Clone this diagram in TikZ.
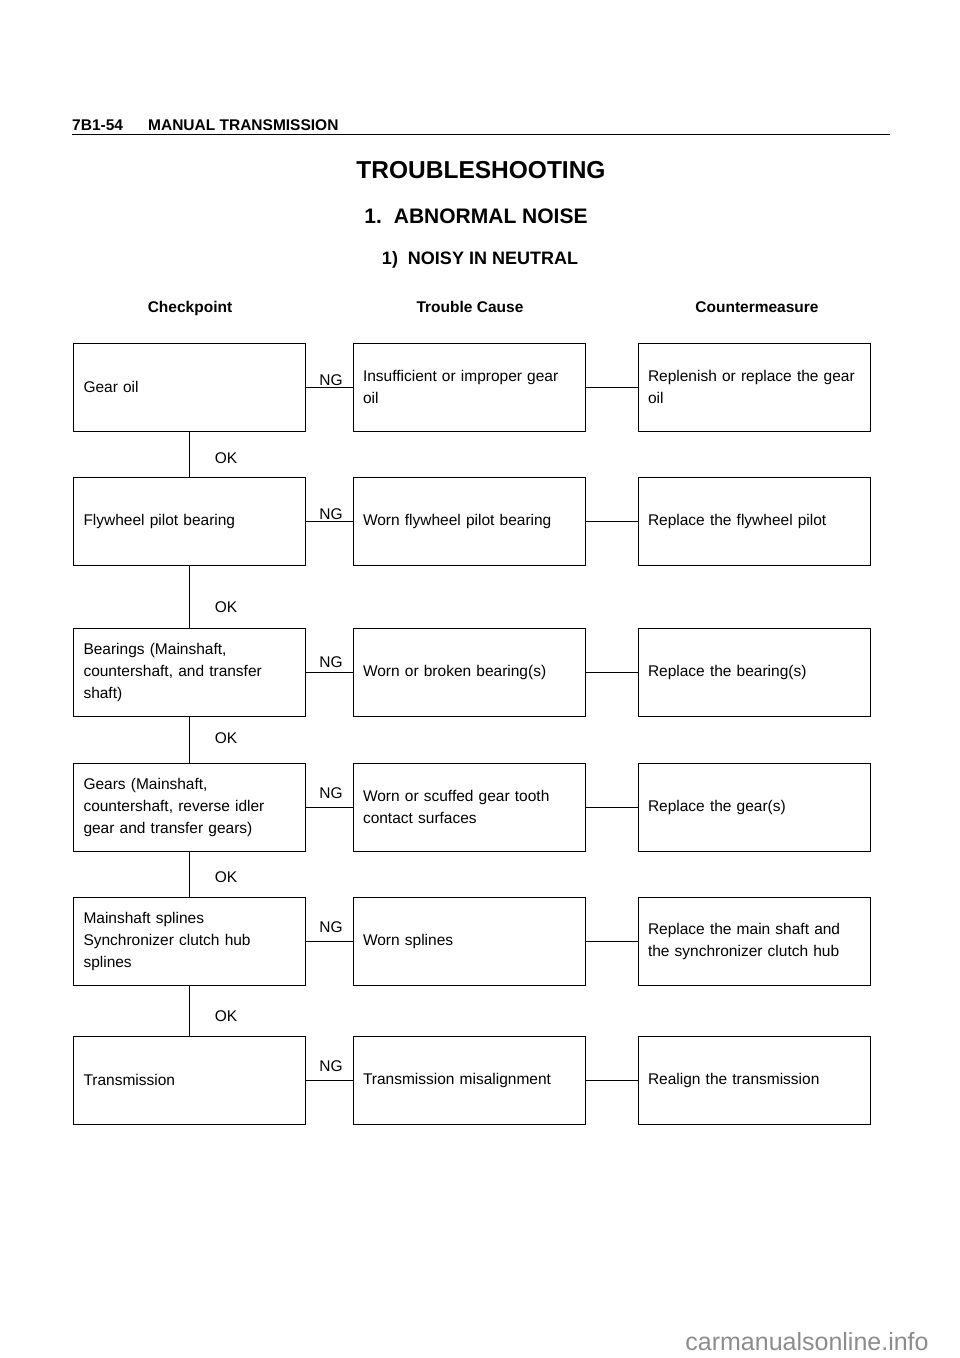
\documentclass[tikz,border=0pt]{standalone}
\usepackage{fontspec}
\setmainfont{Liberation Sans}
\begin{document}
\begin{tikzpicture}[x=1pt,y=-1pt,
  box/.style={draw,line width=1pt,minimum width=232pt,minimum height=88pt,
    text width=212pt,inner xsep=10pt,align=left,
    font=\fontsize{15.5}{22}\selectfont},
  lbl/.style={font=\fontsize{15.5}{18}\selectfont,inner sep=0pt},
  hdr/.style={font=\bfseries\fontsize{15.5}{18}\selectfont,inner sep=0pt,anchor=base},
  conn/.style={line width=1pt}]
\useasboundingbox (0,0) rectangle (960,1358);
% page header
\node[anchor=base west,inner sep=0pt,font=\bfseries\fontsize{15.5}{18}\selectfont] (pghdr) at (72,130.5) {7B1-54};
\node[anchor=base west,inner sep=0pt,font=\bfseries\fontsize{15.5}{18}\selectfont] (pghdr2) at (148,130.5) {MANUAL TRANSMISSION};
\coordinate (rl) at (72,134);
\coordinate (rr) at (890,134);
\draw[line width=1pt] (rl) -- (rr);
% titles
\node[inner sep=0pt,font=\bfseries\fontsize{24.5}{28}\selectfont] (t1) at (481,170) {TROUBLESHOOTING};
\node[inner sep=0pt,font=\bfseries\fontsize{21}{24}\selectfont] (t2) at (476,216) {1.\hspace{12pt}ABNORMAL NOISE};
\node[inner sep=0pt,font=\bfseries\fontsize{18}{21}\selectfont] (t3) at (480,260) {1)\hspace{10pt}NOISY IN NEUTRAL};
\node[hdr] (h1) at (190,312.5) {Checkpoint};
\node[hdr] (h2) at (470,312.5) {Trouble Cause};
\node[hdr] (h3) at (757,312.5) {Countermeasure};
% rows
\node[box] (a1) at (189.5,387) {Gear oil};
\node[box] (b1) at (469,387) {Insufficient or improper gear\\oil};
\node[box] (c1) at (754,387) {Replenish or replace the gear\\oil};
\node[box] (a2) at (189.5,521) {Flywheel pilot bearing};
\node[box] (b2) at (469,521) {Worn flywheel pilot bearing};
\node[box] (c2) at (754,521) {Replace the flywheel pilot};
\node[box] (a3) at (189.5,672) {Bearings (Mainshaft,\\countershaft, and transfer\\shaft)};
\node[box] (b3) at (469,672) {Worn or broken bearing(s)};
\node[box] (c3) at (754,672) {Replace the bearing(s)};
\node[box] (a4) at (189.5,807) {Gears (Mainshaft,\\countershaft, reverse idler\\gear and transfer gears)};
\node[box] (b4) at (469,807) {Worn or scuffed gear tooth\\contact surfaces};
\node[box] (c4) at (754,807) {Replace the gear(s)};
\node[box] (a5) at (189.5,941) {Mainshaft splines\\Synchronizer clutch hub\\splines};
\node[box] (b5) at (469,941) {Worn splines};
\node[box] (c5) at (754,941) {Replace the main shaft and\\the synchronizer clutch hub};
\node[box] (a6) at (189.5,1080) {Transmission};
\node[box] (b6) at (469,1080) {Transmission misalignment};
\node[box] (c6) at (754,1080) {Realign the transmission};
% connectors
\foreach \i in {1,...,6}{
  \draw[conn] (a\i.east) -- (b\i.west);
  \draw[conn] (b\i.east) -- (c\i.west);
}
\foreach \i/\j in {1/2,2/3,3/4,4/5,5/6}{
  \draw[conn] (a\i.south) -- (a\j.north);
}
% NG labels
\node[lbl] (ng1) at (331,380) {NG};
\node[lbl] (ng2) at (331,514) {NG};
\node[lbl] (ng3) at (331,662) {NG};
\node[lbl] (ng4) at (331,793) {NG};
\node[lbl] (ng5) at (331,927) {NG};
\node[lbl] (ng6) at (331,1066) {NG};
% OK labels
\node[lbl] (ok1) at (226,458) {OK};
\node[lbl] (ok2) at (226,607) {OK};
\node[lbl] (ok3) at (226,738) {OK};
\node[lbl] (ok4) at (226,877) {OK};
\node[lbl] (ok5) at (226,1016) {OK};
% watermark
\node[inner sep=0pt,text=black!45,font=\fontsize{25}{28}\selectfont] (wm) at (807,1342) {carmanualsonline.info};
\end{tikzpicture}
\end{document}
